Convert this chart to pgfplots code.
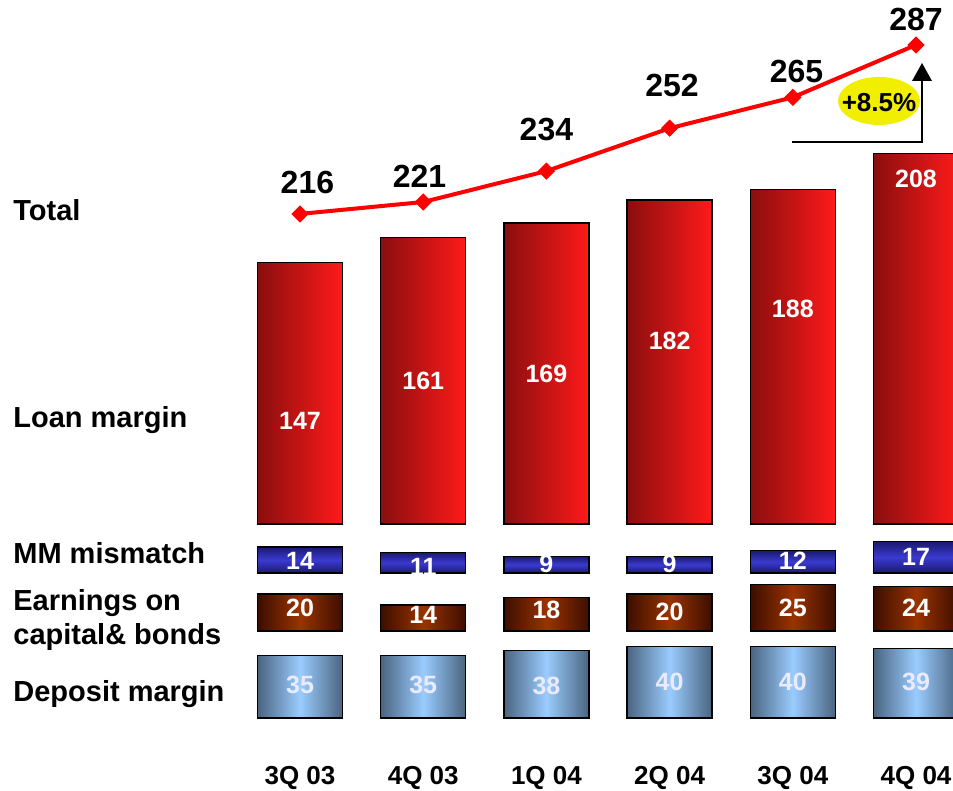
\documentclass[border=0pt]{standalone}
\usepackage{pgfplots}
\pgfplotsset{compat=1.18}
\usepackage{fontspec}
\setmainfont{Liberation Sans}
\definecolor{depdark}{HTML}{4A6480}
\definecolor{deplight}{HTML}{9ACCFF}
\definecolor{mmdark}{HTML}{1A1A70}
\definecolor{mmlight}{HTML}{3A3AD0}
\definecolor{erdark}{HTML}{3C0E00}
\definecolor{erlight}{HTML}{9A3300}
\definecolor{lndark}{HTML}{8A0E0E}
\definecolor{lnlight}{HTML}{FF1A1A}
\definecolor{ovalyellow}{HTML}{F2EE00}
\pgfplotsset{
  panel/.style={scale only axis, width=476.5pt, xmin=-2.435, xmax=5.3,
    clip=false, anchor=south west},
  vals/.style={draw=none, mark=none, nodes near coords,
    point meta=explicit symbolic,
    every node near coord/.style={anchor=center, inner sep=0pt,
      font=\bfseries\fontsize{12.5}{12.5}\selectfont, text=white}},
  barstyle/.style={ybar, bar width=0.69, draw=black, line width=0.7pt},
  depbar/.style={barstyle, left color=depdark, right color=depdark, middle color=deplight},
  erbar/.style={barstyle, left color=erdark, right color=erdark, middle color=erlight},
  mmbar/.style={barstyle, top color=mmdark, bottom color=mmdark, middle color=mmlight},
  lnbar/.style={barstyle, left color=lndark, right color=lnlight},
}
\begin{document}
\begin{tikzpicture}
\useasboundingbox (0,0) rectangle (476.5pt,395.5pt);

% Deposit margin (with category labels)
\begin{axis}[panel, at={(0pt,36.5pt)}, height=44.5pt, ymin=0, ymax=50,
  axis line style={draw=none}, ytick=\empty, xtick={0,1,2,3,4,5},
  xticklabels={3Q 03,4Q 03,1Q 04,2Q 04,3Q 04,4Q 04},
  major tick length=0pt,
  xticklabel style={anchor=center, yshift=-30pt,
    font=\bfseries\fontsize{13}{13}\selectfont}]
\addplot[depbar] coordinates {(0,35)};
\addplot[depbar] coordinates {(1,35)};
\addplot[depbar] coordinates {(2,38)};
\addplot[depbar] coordinates {(3,40)};
\addplot[depbar] coordinates {(4,40)};
\addplot[depbar] coordinates {(5,39)};
\addplot[vals, every node near coord/.append style={text=white!92!blue}]
  coordinates {(0,18.5)[35] (1,18.5)[35] (2,18)[38] (3,20)[40] (4,20)[40] (5,20)[39]};
\end{axis}

% Earnings on capital & bonds
\begin{axis}[panel, hide axis, at={(0pt,80pt)}, height=27.75pt, ymin=0, ymax=30]
\addplot[erbar] coordinates {(0,20)};
\addplot[erbar] coordinates {(1,14)};
\addplot[erbar] coordinates {(2,18)};
\addplot[erbar] coordinates {(3,20)};
\addplot[erbar] coordinates {(4,25)};
\addplot[erbar] coordinates {(5,24)};
\addplot[vals]
  coordinates {(0,12.4)[20] (1,8.6)[14] (2,11.4)[18] (3,10.3)[20] (4,12.4)[25] (5,12.4)[24]};
\end{axis}

% MM mismatch
\begin{axis}[panel, hide axis, at={(0pt,109pt)}, height=27.75pt, ymin=0, ymax=30]
\addplot[mmbar] coordinates {(0,14)};
\addplot[mmbar] coordinates {(1,11)};
\addplot[mmbar] coordinates {(2,9)};
\addplot[mmbar] coordinates {(3,9)};
\addplot[mmbar] coordinates {(4,12)};
\addplot[mmbar] coordinates {(5,17)};
\addplot[vals]
  coordinates {(0,6.5)[14] (1,3.2)[11] (2,4.9)[9] (3,4.9)[9] (4,6.5)[12] (5,8.6)[17]};
\end{axis}

% Loan margin
\begin{axis}[panel, hide axis, at={(0pt,133.5pt)}, height=195.8pt, ymin=0, ymax=220]
\addplot[lnbar] coordinates {(0,147)};
\addplot[lnbar] coordinates {(1,161)};
\addplot[lnbar] coordinates {(2,169)};
\addplot[lnbar] coordinates {(3,182)};
\addplot[lnbar] coordinates {(4,188)};
\addplot[lnbar] coordinates {(5,208)};
\addplot[vals]
  coordinates {(0,57.9)[147] (1,80.3)[161] (2,84.3)[169] (3,102.8)[182] (4,120.8)[188] (5,193.8)[208]};
\end{axis}

% Total
\begin{axis}[panel, hide axis, at={(0pt,269.5pt)}, height=119pt, ymin=200, ymax=300]
\addplot[red, line width=2pt, mark=square*, mark size=2.8pt,
  mark options={rotate=45, fill=red, draw=red, line width=0.5pt}]
  coordinates {(0,216) (1,221) (2,234) (3,252) (4,265) (5,287)};
\addplot[vals, every node near coord/.append style={text=black,
    font=\bfseries\fontsize{16}{16}\selectfont}]
  coordinates {(0.06,229)[216] (0.97,232)[221] (2,251.3)[234] (3.02,269.8)[252] (4.03,275.7)[265] (5,297.5)[287]};
\end{axis}

\begin{scope}[x=0.5pt, y=-0.5pt, shift={(0pt,395.5pt)}]
  \begin{scope}[every node/.style={anchor=west, inner sep=0pt,
      font=\bfseries\fontsize{14.5}{17}\selectfont}]
    \node at (13,210) {Total};
    \node at (13,420) {Loan margin};
    \node at (13,553) {MM mismatch};
    \node at (13,603) {Earnings on};
    \node at (13,637) {capital\& bonds};
    \node at (13,694) {Deposit margin};
  \end{scope}
  \draw[line width=1pt] (792,142) -- (922,142) -- (922,80);
  \fill (912,81) -- (932,81) -- (922,63) -- cycle;
  \fill[ovalyellow] (879,101) ellipse [x radius=41, y radius=24];
  \node[font=\bfseries\fontsize{13}{13}\selectfont, inner sep=0pt] at (879,103) {+8.5\%};
\end{scope}
\end{tikzpicture}
\end{document}
